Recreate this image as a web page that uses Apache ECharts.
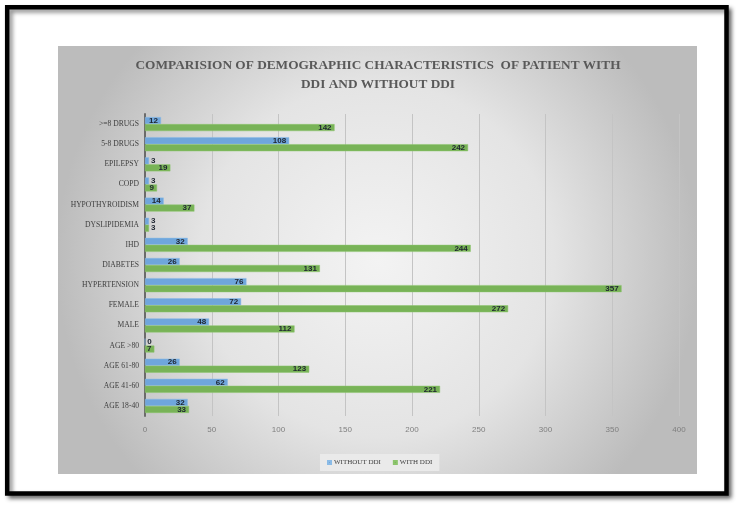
<!DOCTYPE html>
<html><head><meta charset="utf-8">
<script src="https://cdn.jsdelivr.net/npm/echarts@6/dist/echarts.min.js"></script>
<style>html,body{margin:0;padding:0;background:#fff}#c{width:740px;height:509px}</style>
</head><body><div id="c"></div>
<script>
const categories = ['AGE 18-40','AGE 41-60','AGE 61-80','AGE >80','MALE','FEMALE','HYPERTENSION','DIABETES','IHD','DYSLIPIDEMIA','HYPOTHYROIDISM','COPD','EPILEPSY','5-8 DRUGS','>=8 DRUGS'];
const withoutDDI = [32,62,26,0,48,72,76,26,32,3,14,3,3,108,12];
const withDDI = [33,221,123,7,112,272,357,131,244,3,37,9,19,242,142];
const xTicks = [0,50,100,150,200,250,300,350,400];

const chart = echarts.init(document.getElementById('c'));
function mk(vals){
  return vals.map(v => ({value: v, label: {position: v < 5 ? 'right' : 'insideRight', distance: v < 5 ? 2 : 3}}));
}
const labelStyle = {show:true, fontSize:8, fontWeight:'bold', color:'#1e2530', fontFamily:'Liberation Sans Narrow, Liberation Sans, sans-serif'};
chart.setOption({
  animation:false,
  backgroundColor:'#ffffff',
  graphic:[
    {type:'rect', z:-10, shape:{x:7.2,y:7.2,width:719.3,height:486.3}, style:{fill:'#ffffff', stroke:'#000', lineWidth:4.5, shadowBlur:4, shadowOffsetX:3, shadowOffsetY:3, shadowColor:'rgba(0,0,0,0.45)'}},
    {type:'rect', z:-9, shape:{x:58,y:46,width:639,height:428}, style:{fill:{type:'radial', x:0.5, y:0.5, r:0.75, colorStops:[{offset:0,color:'#f3f3f3'},{offset:0.55,color:'#e4e4e4'},{offset:1,color:'#bcbcbc'}]}}}
  ],
  title:{
    text:'COMPARISION OF DEMOGRAPHIC CHARACTERISTICS  OF PATIENT WITH\nDDI AND WITHOUT DDI',
    left:373, top:51, textAlign:'center',
    textStyle:{fontFamily:'Liberation Serif, serif', fontWeight:'bold', fontSize:13.3, color:'#595959', lineHeight:19}
  },
  legend:{
    data:['WITHOUT DDI','WITH DDI'], left:320, top:454,
    itemWidth:3, itemHeight:3, itemGap:12, icon:'rect',
    backgroundColor:'rgba(236,236,236,0.85)', padding:[5,7],
    textStyle:{fontFamily:'Liberation Serif, serif', fontSize:7, color:'#404040', padding:[0,0,0,-2]}
  },
  grid:{left:145, right:61, top:114, bottom:93, containLabel:false},
  xAxis:{
    type:'value', min:0, max:400, interval:50,
    axisLine:{show:false}, axisTick:{show:false},
    splitLine:{lineStyle:{color:'#c4c4c4', width:1}},
    axisLabel:{fontSize:8, color:'#7f7f7f', margin:10, fontFamily:'Liberation Sans Narrow, Liberation Sans, sans-serif'}
  },
  yAxis:{
    type:'category', data:categories,
    axisLine:{lineStyle:{color:'#6b6b6b', width:2}}, axisTick:{show:false},
    axisLabel:{fontSize:7.6, color:'#404040', margin:6, fontFamily:'Liberation Serif, serif'}
  },
  series:[
    {name:'WITHOUT DDI', type:'bar', data:mk(withoutDDI), barWidth:7, barGap:'0%', itemStyle:{color:'#6fa6dc', borderColor:'#8bbbe6', borderWidth:0.5}, label:labelStyle},
    {name:'WITH DDI', type:'bar', data:mk(withDDI), barWidth:7, barGap:'0%', itemStyle:{color:'#78b357', borderColor:'#8cc46c', borderWidth:0.5}, label:labelStyle}
  ]
});
</script></body></html>
